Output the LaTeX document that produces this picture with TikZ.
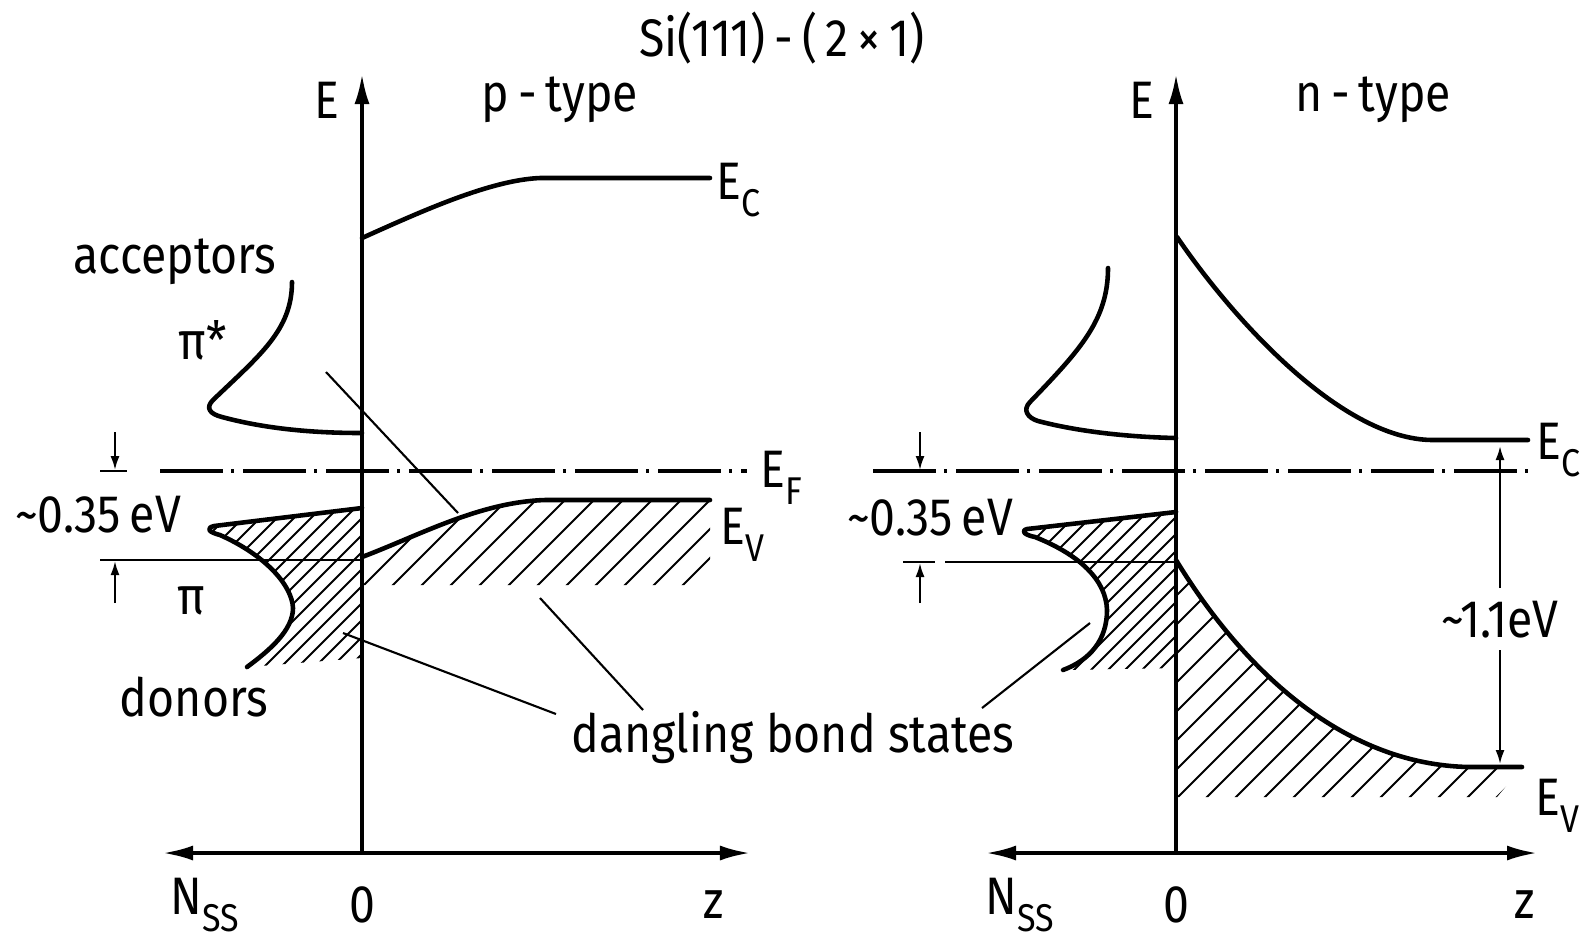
\documentclass[tikz,border=0pt]{standalone}
\usepackage{fontspec}
\setmainfont{Fira Sans}[FakeStretch=0.88]
\usetikzlibrary{arrows.meta}
\newcommand{\lsub}[1]{\raisebox{-0.6ex}{\fontsize{11}{12}\selectfont #1}}
\begin{document}
\begin{tikzpicture}[x=0.01cm,y=-0.01cm,
  lbl/.style={inner sep=0pt, font=\fontsize{15}{17}\selectfont},
  band/.style={line width=1.3pt, line cap=round, line join=round},
  thinl/.style={line width=0.6pt},
  axisl/.style={line width=1pt},
  fermi/.style={line width=1pt, dash pattern=on 0.63cm off 0.08cm on 0.03cm off 0.09cm},
  bigtip/.style={-{Latex[length=0.3cm,width=0.15cm]}},
  bothtip/.style={{Latex[length=0.3cm,width=0.15cm]}-{Latex[length=0.3cm,width=0.15cm]}},
  smalltip/.style={-{Latex[length=0.14cm,width=0.09cm]}},
  hatch/.style={line width=0.55pt}
]
\useasboundingbox (0,0) rectangle (1589,941);

% ---------- hatching ----------
% p-type valence band
\begin{scope}
\clip (362,557) .. controls (420,535) and (480,502) .. (545,500) -- (710,500) -- (710,585) -- (362,585) -- cycle;
\foreach \k in {-8,...,14} \draw[hatch] ({293+29*\k},685) -- ++(300,-300);
\end{scope}
% p-type donors
\begin{scope}
\clip (362,508) -- (214,526) .. controls (206,528) and (208,532) .. (220,535) .. controls (265,555) and (292,585) .. (293,608) .. controls (293,630) and (270,650) .. (247,667) -- (362,658) -- cycle;
\foreach \k in {-20,...,12} \draw[hatch] ({300+17*\k},767) -- ++(300,-300);
\end{scope}
% n-type valence band
\begin{scope}
\clip (1176,560) .. controls (1240,665) and (1340,765) .. (1470,767) -- (1522,767) -- (1497,797) -- (1176,797) -- cycle;
\foreach \k in {-10,...,12} \draw[hatch] ({1107+29*\k},897) -- ++(400,-400);
\end{scope}
% n-type donors
\begin{scope}
\clip (1176,512) -- (1027,529) .. controls (1020,531) and (1025,535) .. (1035,537) .. controls (1080,555) and (1106,580) .. (1107,610) .. controls (1107,640) and (1090,660) .. (1063,670) -- (1176,668) -- cycle;
\foreach \k in {-20,...,12} \draw[hatch] ({1110+17*\k},770) -- ++(300,-300);
\end{scope}

% ---------- axes ----------
\coordinate (Lo) at (362,853);
\coordinate (Lt) at (362,74);
\coordinate (Ll) at (163,853);
\coordinate (Lr) at (750,853);
\coordinate (Ro) at (1176,853);
\coordinate (Rt) at (1176,74);
\coordinate (Rl) at (986,853);
\coordinate (Rr) at (1537,853);
\draw[axisl,bigtip] (Lo) -- (Lt);
\draw[axisl,bothtip] (Ll) -- (Lr);
\draw[axisl,bigtip] (Ro) -- (Rt);
\draw[axisl,bothtip] (Rl) -- (Rr);

% ---------- Fermi levels ----------
\draw[fermi] (160,471) -- (747,471);
\draw[thinl] (100,471) -- (127,471);
\draw[fermi] (873,471) -- (1530,471);

% ---------- p-type bands ----------
\draw[band] (362,238) .. controls (420,212) and (490,180) .. (540,178) -- (710,178);
\draw[band] (362,557) .. controls (420,535) and (480,502) .. (545,500) -- (710,500);
\draw[band] (292,282) .. controls (292,330) and (260,355) .. (213,400) .. controls (205,408) and (210,414) .. (222,417) .. controls (270,430) and (320,433) .. (362,433);
\draw[band] (362,508) -- (214,526) .. controls (206,528) and (208,532) .. (220,535) .. controls (265,555) and (292,585) .. (293,608) .. controls (293,630) and (270,650) .. (247,667);

% ---------- n-type bands ----------
\draw[band] (1177,237) .. controls (1230,315) and (1340,440) .. (1433,440) -- (1528,440);
\draw[band] (1176,560) .. controls (1240,665) and (1340,765) .. (1470,767) -- (1522,767);
\draw[band] (1108,268) .. controls (1108,320) and (1080,350) .. (1030,402) .. controls (1022,410) and (1028,418) .. (1038,421) .. controls (1080,432) and (1130,437) .. (1176,438);
\draw[band] (1176,512) -- (1027,529) .. controls (1020,531) and (1025,535) .. (1035,537) .. controls (1080,555) and (1106,580) .. (1107,610) .. controls (1107,640) and (1090,660) .. (1063,670);

% ---------- 0.35 eV markers ----------
\draw[thinl,smalltip] (115,432) -- (115,470);
\draw[thinl,smalltip] (115,603) -- (115,561);
\draw[thinl] (100,560) -- (362,560);
\draw[thinl,smalltip] (920,432) -- (920,470);
\draw[thinl,smalltip] (920,603) -- (920,563);
\draw[thinl] (903,562) -- (935,562);
\draw[thinl] (945,562) -- (1176,562);

% ---------- labels ----------
\node[lbl] (title) at (782,38) {Si(111)\,-\,(\,2\,×\,1)};
\node[lbl] (EL) at (327,100) {E};
\node[lbl] (ptype) at (560,100) {p\,-\,type};
\node[lbl] (ER) at (1142,100) {E};
\node[lbl] (ntype) at (1373,100) {n\,-\,type};
\node[lbl,anchor=west] (EcP) at (716,190) {E\lsub{C}};
\node[lbl,anchor=west] (EfP) at (760,478) {E\lsub{F}};
\node[lbl,anchor=west] (EvP) at (720,535) {E\lsub{V}};
\node[lbl,anchor=west] (EcN) at (1536,450) {E\lsub{C}};
\node[lbl,anchor=west] (EvN) at (1535,806) {E\lsub{V}};
\node[lbl] (acc) at (175,262) {acceptors};
\node[lbl] (pistar) at (203,340) {π*};
\node[lbl] (piL) at (191,601) {π};
\node[lbl] (don) at (194,697) {donors};
\node[lbl] (evL) at (98,515) {\textasciitilde0.35\,eV};
\node[lbl] (evR) at (930,518) {\textasciitilde0.35\,eV};
\node[lbl] (gap) at (1500,620) {\textasciitilde1.1eV};
\node[lbl] (dbs) at (793,738) {dangling bond states};
\node[lbl] (NL) at (205,905) {N\lsub{SS}};
\node[lbl] (zeroL) at (362,905) {0};
\node[lbl] (zL) at (714,905) {z};
\node[lbl] (NR) at (1020,905) {N\lsub{SS}};
\node[lbl] (zeroR) at (1176,905) {0};
\node[lbl] (zR) at (1525,905) {z};

% ---------- gap arrow ----------
\coordinate (gt) at (1500,588);
\coordinate (gb) at (1500,650);
\coordinate (gEc) at (1500,446);
\coordinate (gEv) at (1500,764);
\draw[thinl,smalltip] (gt) -- (gEc);
\draw[thinl,smalltip] (gb) -- (gEv);

% ---------- pointer lines ----------
\coordinate (pP1) at (326,372);
\coordinate (pP2) at (458,513);
\draw[thinl] (pP1) -- (pP2);
\coordinate (d1) at (343,633);
\coordinate (d1e) at (556,714);
\coordinate (d2) at (540,598);
\coordinate (d2e) at (643,710);
\coordinate (d3) at (1090,623);
\coordinate (d3e) at (982,708);
\draw[thinl] (d1) -- (d1e);
\draw[thinl] (d2) -- (d2e);
\draw[thinl] (d3) -- (d3e);
\end{tikzpicture}
\end{document}
